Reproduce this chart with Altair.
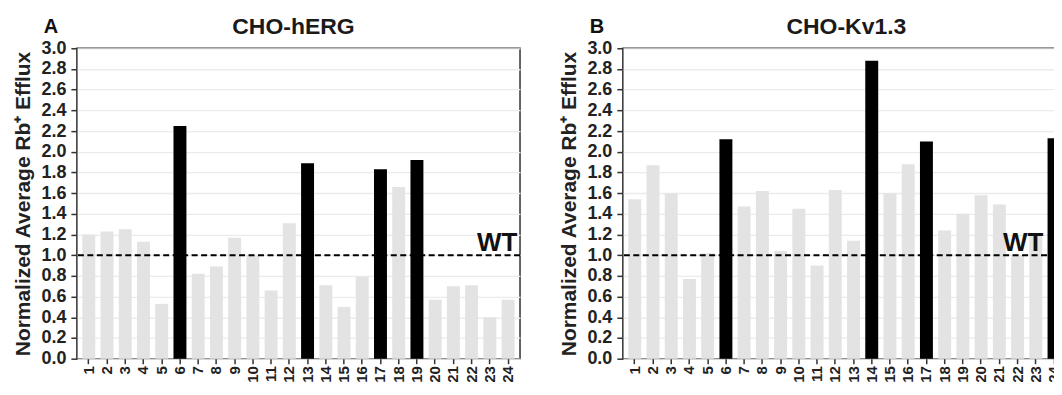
import altair as alt
import pandas as pd

positions = list(range(1, 25))

herg_values = [1.20, 1.23, 1.25, 1.13, 0.53, 2.25, 0.82, 0.89, 1.17, 1.00, 0.66, 1.31,
               1.89, 0.71, 0.50, 0.79, 1.83, 1.66, 1.92, 0.57, 0.70, 0.71, 0.40, 0.57]
herg_hits = [6, 13, 17, 19]

kv_values = [1.54, 1.87, 1.60, 0.77, 1.02, 2.12, 1.47, 1.62, 1.04, 1.45, 0.90, 1.63,
             1.14, 2.88, 1.60, 1.88, 2.10, 1.24, 1.40, 1.58, 1.49, 1.00, 1.20, 2.13]
kv_hits = [6, 14, 17, 24]

y_ticks = [0.0, 0.2, 0.4, 0.6, 0.8, 1.0, 1.2, 1.4, 1.6, 1.8, 2.0, 2.2, 2.4, 2.6, 2.8, 3.0]
wt_level = 1.0
y_title = "Normalized Average Rb\u207a Efflux"

FONT = "Liberation Sans"
W, H = 444, 311


def panel(values, hits, title, letter, wt_x, title_dx):
    df = pd.DataFrame({
        "mut": positions,
        "val": values,
        "hit": [p in hits for p in positions],
    })
    x = alt.X("mut:O",
              scale=alt.Scale(paddingInner=0.29, paddingOuter=0.3),
              axis=alt.Axis(title=None, labelAngle=270, bandPosition=0.5))
    y = alt.Y("val:Q",
              scale=alt.Scale(domain=[0, 3], nice=False, zero=True),
              axis=alt.Axis(values=y_ticks, format=".1f", title=y_title,
                            labelOverlap=False, tickCount=16))
    base = alt.Chart(df)
    gray = base.transform_filter("!datum.hit").mark_bar(color="#e3e3e3").encode(x=x, y=y)
    black = base.transform_filter("datum.hit").mark_bar(color="#000000").encode(x=x, y=y)
    ref_df = pd.DataFrame({"val": [wt_level], "label": ["WT"]})
    rule = alt.Chart(ref_df).mark_rule(
        strokeDash=[6, 3.5], strokeWidth=2, color="#000000"
    ).encode(y=y)
    wt = alt.Chart(ref_df).mark_text(
        font=FONT, fontWeight="bold", fontSize=26, align="center",
        baseline="alphabetic", dy=-4, color="#111111"
    ).encode(y=y, x=alt.value(wt_x), text="label:N")
    txt_df = pd.DataFrame({"t": [letter], "title": [title]})
    let = alt.Chart(txt_df).mark_text(
        font=FONT, fontWeight="bold", fontSize=20, align="center",
        baseline="alphabetic", color="#111111"
    ).encode(x=alt.value(-26), y=alt.value(-15), text="t:N")
    ttl = alt.Chart(txt_df).mark_text(
        font=FONT, fontWeight="bold", fontSize=23, align="center",
        baseline="alphabetic", color="#1a1a1a"
    ).encode(x=alt.value(W / 2 + title_dx), y=alt.value(-14), text="title:N")
    return alt.layer(gray, rule, black, wt, let, ttl).properties(width=W, height=H)


left = panel(herg_values, herg_hits, "CHO-hERG", "A", 421, -5)
right = panel(kv_values, kv_hits, "CHO-Kv1.3", "B", 401, 2)

chart = alt.hconcat(left, right, spacing=36).properties(
    padding={"left": 4, "top": 7, "right": -14, "bottom": -2}
).configure_view(
    stroke="#333333", strokeWidth=1.5
).configure_axis(
    labelFont=FONT, labelFontWeight="bold", labelColor="#222222",
    titleFont=FONT, titleFontWeight="bold", titleFontSize=21, titleColor="#222222",
    domain=False, tickColor="#333333", tickWidth=1.5,
    gridColor="#ebebeb", gridWidth=1.3,
).configure_axisY(
    titlePadding=7, labelFontSize=18, labelPadding=5, tickSize=6
).configure_axisX(
    labelBaseline="middle", labelAlign="right", labelFontSize=15,
    labelPadding=2, tickSize=5
)

chart.save("out.html", embed_options={"renderer": "svg", "actions": False})
